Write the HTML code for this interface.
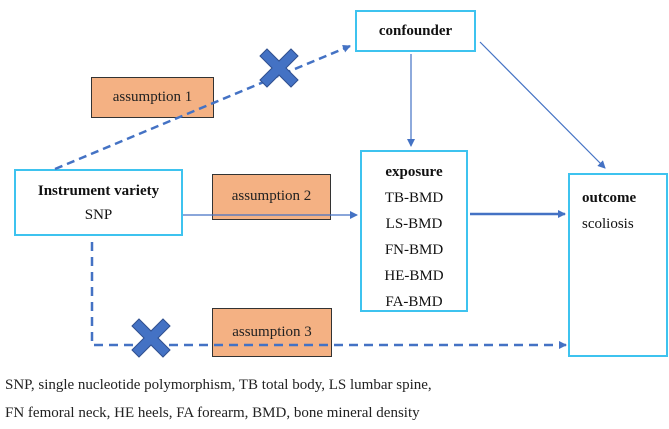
<!DOCTYPE html>
<html><head><style>
body{margin:0;background:#fff;width:669px;height:429px;overflow:hidden;position:relative;font-family:"Liberation Serif",serif;color:#111}
.b{position:absolute;border:2px solid #3ec3ef;background:#fff;box-sizing:border-box;font-size:15px}
.a{position:absolute;background:#f4b183;border:1.5px solid #333;box-sizing:border-box;font-size:15px;text-align:center;color:#222}
.cap{position:absolute;left:5px;font-size:15px;color:#222}
</style></head><body>
<div class="b" style="left:355px;top:10px;width:121px;height:42px;text-align:center;line-height:38px;font-weight:bold">confounder</div>
<div class="b" style="left:14px;top:169px;width:169px;height:67px;text-align:center;padding-top:8px;line-height:24px"><b>Instrument variety</b><br>SNP</div>
<div class="b" style="left:360px;top:150px;width:108px;height:162px;text-align:center;padding-top:7px;line-height:26px"><b>exposure</b><br>TB-BMD<br>LS-BMD<br>FN-BMD<br>HE-BMD<br>FA-BMD</div>
<div class="b" style="left:568px;top:173px;width:100px;height:184px;padding:10px 0 0 12px;line-height:26px"><b>outcome</b><br>scoliosis</div>
<div class="a" style="left:91px;top:77px;width:123px;height:41px;line-height:38px">assumption 1</div>
<div class="a" style="left:212px;top:174px;width:119px;height:46px;line-height:43px">assumption 2</div>
<div class="a" style="left:212px;top:308px;width:120px;height:49px;line-height:46px">assumption 3</div>
<svg width="669" height="429" style="position:absolute;left:0;top:0">
<defs><marker id="m" markerWidth="8" markerHeight="8" refX="7" refY="4" orient="auto" markerUnits="userSpaceOnUse"><path d="M0,0L8,4L0,8z" fill="#4472c4"/></marker></defs>
<g stroke="#4472c4" fill="none">
<line x1="55" y1="169" x2="350" y2="46" stroke-width="2.5" stroke-dasharray="8,5" marker-end="url(#m)"/>
<line x1="411" y1="54" x2="411" y2="146" stroke-width="1.2" marker-end="url(#m)"/>
<line x1="480" y1="42" x2="605" y2="168" stroke-width="1.2" marker-end="url(#m)"/>
<line x1="183" y1="215" x2="357" y2="215" stroke-width="1.2" marker-end="url(#m)"/>
<line x1="470" y1="214" x2="565" y2="214" stroke-width="2.5" marker-end="url(#m)"/>
<polyline points="92,242 92,345 566,345" stroke-width="2.5" stroke-dasharray="9,6" marker-end="url(#m)"/>
</g>
<g fill="#4472c4" stroke="#2f4f8f" stroke-width="1">
<path transform="translate(279,68)" d="M-12,-19L0,-7L12,-19L19,-12L7,0L19,12L12,19L0,7L-12,19L-19,12L-7,0L-19,-12Z"/>
<path transform="translate(151,338)" d="M-12,-19L0,-7L12,-19L19,-12L7,0L19,12L12,19L0,7L-12,19L-19,12L-7,0L-19,-12Z"/>
</g>
</svg>
<div class="cap" style="top:377px">SNP, single nucleotide polymorphism, TB total body, LS lumbar spine,</div>
<div class="cap" style="top:405px">FN femoral neck, HE heels, FA forearm, BMD, bone mineral density</div>
</body></html>
